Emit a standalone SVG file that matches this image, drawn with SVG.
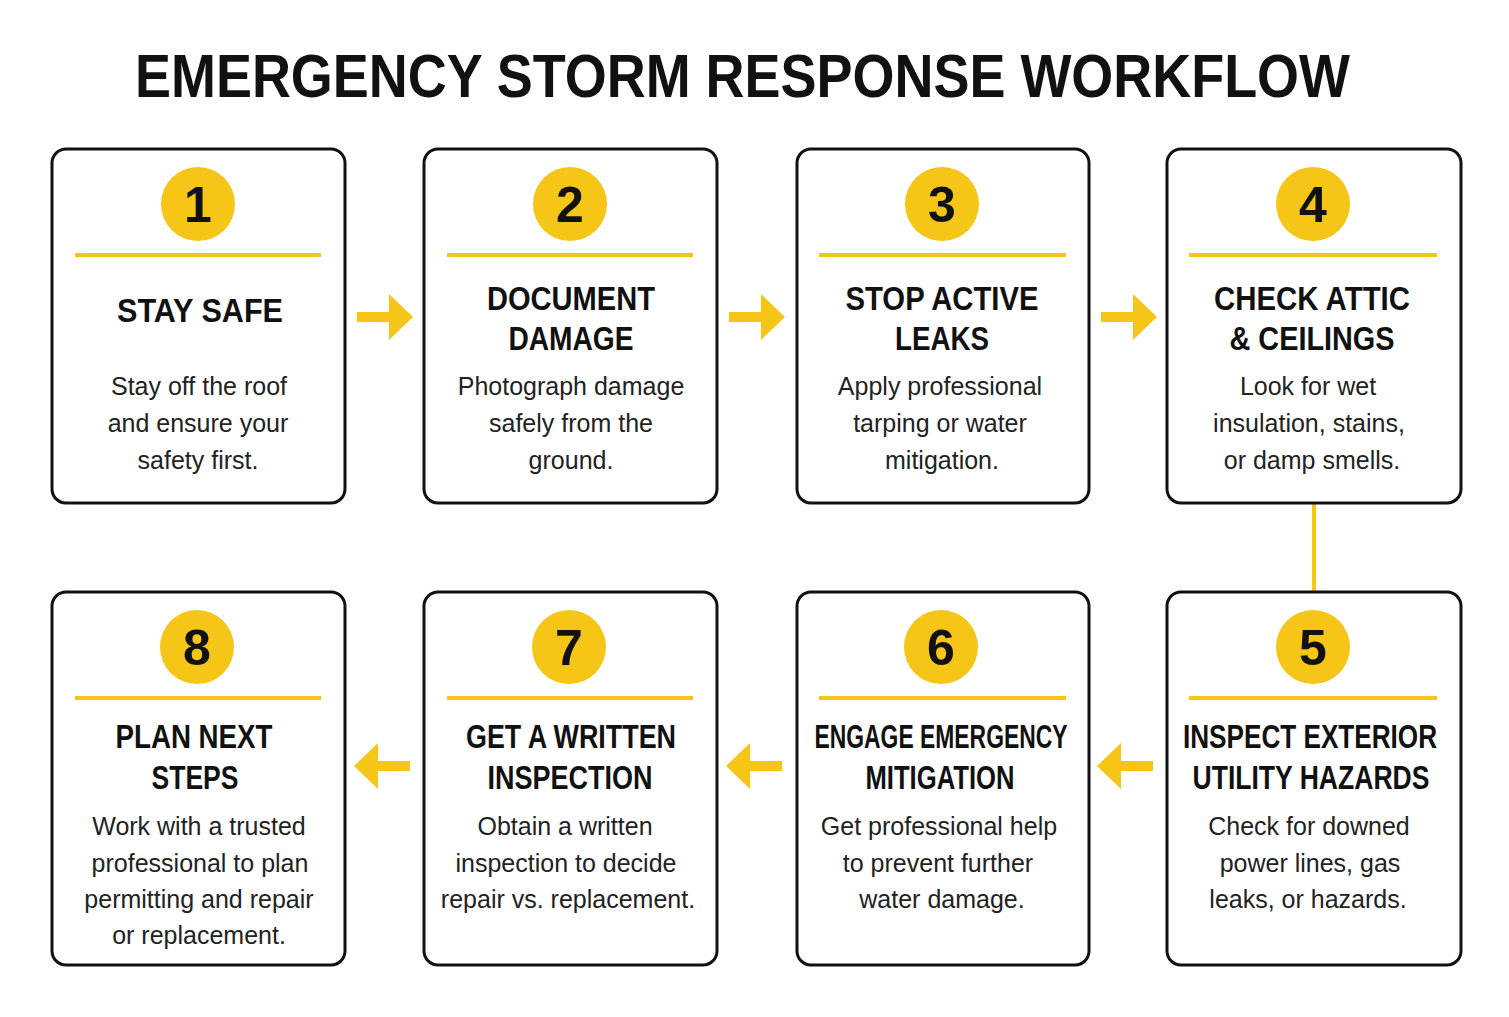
<svg xmlns="http://www.w3.org/2000/svg" width="1509" height="1017" viewBox="0 0 1509 1017">
<style>
.box{fill:#fff;stroke:#111;stroke-width:3}
.circ{fill:#F5C518}
.num{font-family:"Liberation Sans",sans-serif;font-weight:bold;font-size:50px;fill:#111;text-anchor:middle}
.rule{stroke:#F5C518;stroke-width:4}
.hd{font-family:"Liberation Sans",sans-serif;font-weight:bold;font-size:33px;fill:#111;text-anchor:middle}
.bd{font-family:"Liberation Sans",sans-serif;font-size:25px;fill:#222;text-anchor:middle}
.arr{fill:#F5C518}
.ttl{font-family:"Liberation Sans",sans-serif;font-weight:bold;font-size:62px;fill:#111}
</style>
<rect width="1509" height="1017" fill="#fff"/>
<text class="ttl" x="135" y="97" textLength="1215" lengthAdjust="spacingAndGlyphs">EMERGENCY STORM RESPONSE WORKFLOW</text>
<g id="connectors">
<path class="arr" d="M357 312h32v-18l24 23l-24 23v-18h-32z"/>
<path class="arr" d="M729 312h32v-18l24 23l-24 23v-18h-32z"/>
<path class="arr" d="M1101 312h32v-18l24 23l-24 23v-18h-32z"/>
<line x1="1314" y1="503" x2="1314" y2="592" stroke="#F5C518" stroke-width="4"/>
<path class="arr" d="M410 761h-32v-18l-24 23l24 23v-18h32z"/>
<path class="arr" d="M782 761h-32v-18l-24 23l24 23v-18h32z"/>
<path class="arr" d="M1153 761h-32v-18l-24 23l24 23v-18h32z"/>
</g>
<g id="n1"><rect class="box" x="52" y="149" width="293" height="354" rx="14"/><circle class="circ" cx="198" cy="204" r="37"/><text class="num" x="198" y="222">1</text><line class="rule" x1="75" y1="255" x2="321" y2="255"/>
<text class="hd" x="200" y="322" textLength="166" lengthAdjust="spacingAndGlyphs">STAY SAFE</text>
<text class="bd" x="199" y="395">Stay off the roof</text><text class="bd" x="198" y="432">and ensure your</text><text class="bd" x="198" y="469">safety first.</text></g>
<g id="n2"><rect class="box" x="424" y="149" width="293" height="354" rx="14"/><circle class="circ" cx="570" cy="204" r="37"/><text class="num" x="570" y="222">2</text><line class="rule" x1="447" y1="255" x2="693" y2="255"/>
<text class="hd" x="571" y="310" textLength="168" lengthAdjust="spacingAndGlyphs">DOCUMENT</text><text class="hd" x="571" y="350" textLength="125" lengthAdjust="spacingAndGlyphs">DAMAGE</text>
<text class="bd" x="571" y="395">Photograph damage</text><text class="bd" x="571" y="432">safely from the</text><text class="bd" x="571" y="469">ground.</text></g>
<g id="n3"><rect class="box" x="797" y="149" width="292" height="354" rx="14"/><circle class="circ" cx="942" cy="204" r="37"/><text class="num" x="942" y="222">3</text><line class="rule" x1="819" y1="255" x2="1066" y2="255"/>
<text class="hd" x="942" y="310" textLength="193" lengthAdjust="spacingAndGlyphs">STOP ACTIVE</text><text class="hd" x="942" y="350" textLength="94" lengthAdjust="spacingAndGlyphs">LEAKS</text>
<text class="bd" x="940" y="395">Apply professional</text><text class="bd" x="940" y="432">tarping or water</text><text class="bd" x="942" y="469">mitigation.</text></g>
<g id="n4"><rect class="box" x="1167" y="149" width="294" height="354" rx="14"/><circle class="circ" cx="1313" cy="204" r="37"/><text class="num" x="1313" y="222">4</text><line class="rule" x1="1189" y1="255" x2="1437" y2="255"/>
<text class="hd" x="1312" y="310" textLength="196" lengthAdjust="spacingAndGlyphs">CHECK ATTIC</text><text class="hd" x="1312" y="350" textLength="165" lengthAdjust="spacingAndGlyphs">&amp; CEILINGS</text>
<text class="bd" x="1308" y="395">Look for wet</text><text class="bd" x="1309" y="432">insulation, stains,</text><text class="bd" x="1312" y="469">or damp smells.</text></g>
<g id="n5"><rect class="box" x="1167" y="592" width="294" height="373" rx="14"/><circle class="circ" cx="1313" cy="647" r="37"/><text class="num" x="1313" y="665">5</text><line class="rule" x1="1189" y1="698" x2="1437" y2="698"/>
<text class="hd" x="1310" y="748" textLength="254" lengthAdjust="spacingAndGlyphs">INSPECT EXTERIOR</text><text class="hd" x="1311" y="789" textLength="237" lengthAdjust="spacingAndGlyphs">UTILITY HAZARDS</text>
<text class="bd" x="1309" y="835">Check for downed</text><text class="bd" x="1310" y="872">power lines, gas</text><text class="bd" x="1308" y="908">leaks, or hazards.</text></g>
<g id="n6"><rect class="box" x="797" y="592" width="292" height="373" rx="14"/><circle class="circ" cx="941" cy="647" r="37"/><text class="num" x="941" y="665">6</text><line class="rule" x1="819" y1="698" x2="1066" y2="698"/>
<text class="hd" x="941" y="748" textLength="253" lengthAdjust="spacingAndGlyphs">ENGAGE EMERGENCY</text><text class="hd" x="940" y="789" textLength="149" lengthAdjust="spacingAndGlyphs">MITIGATION</text>
<text class="bd" x="939" y="835">Get professional help</text><text class="bd" x="938" y="872">to prevent further</text><text class="bd" x="942" y="908">water damage.</text></g>
<g id="n7"><rect class="box" x="424" y="592" width="293" height="373" rx="14"/><circle class="circ" cx="569" cy="647" r="37"/><text class="num" x="569" y="665">7</text><line class="rule" x1="447" y1="698" x2="693" y2="698"/>
<text class="hd" x="571" y="748" textLength="210" lengthAdjust="spacingAndGlyphs">GET A WRITTEN</text><text class="hd" x="570" y="789" textLength="165" lengthAdjust="spacingAndGlyphs">INSPECTION</text>
<text class="bd" x="565" y="835">Obtain a written</text><text class="bd" x="566" y="872">inspection to decide</text><text class="bd" x="568" y="908">repair vs. replacement.</text></g>
<g id="n8"><rect class="box" x="52" y="592" width="293" height="373" rx="14"/><circle class="circ" cx="197" cy="647" r="37"/><text class="num" x="197" y="665">8</text><line class="rule" x1="75" y1="698" x2="321" y2="698"/>
<text class="hd" x="194" y="748" textLength="157" lengthAdjust="spacingAndGlyphs">PLAN NEXT</text><text class="hd" x="195" y="789" textLength="87" lengthAdjust="spacingAndGlyphs">STEPS</text>
<text class="bd" x="199" y="835">Work with a trusted</text><text class="bd" x="200" y="872">professional to plan</text><text class="bd" x="199" y="908">permitting and repair</text><text class="bd" x="199" y="944">or replacement.</text></g>
</svg>
